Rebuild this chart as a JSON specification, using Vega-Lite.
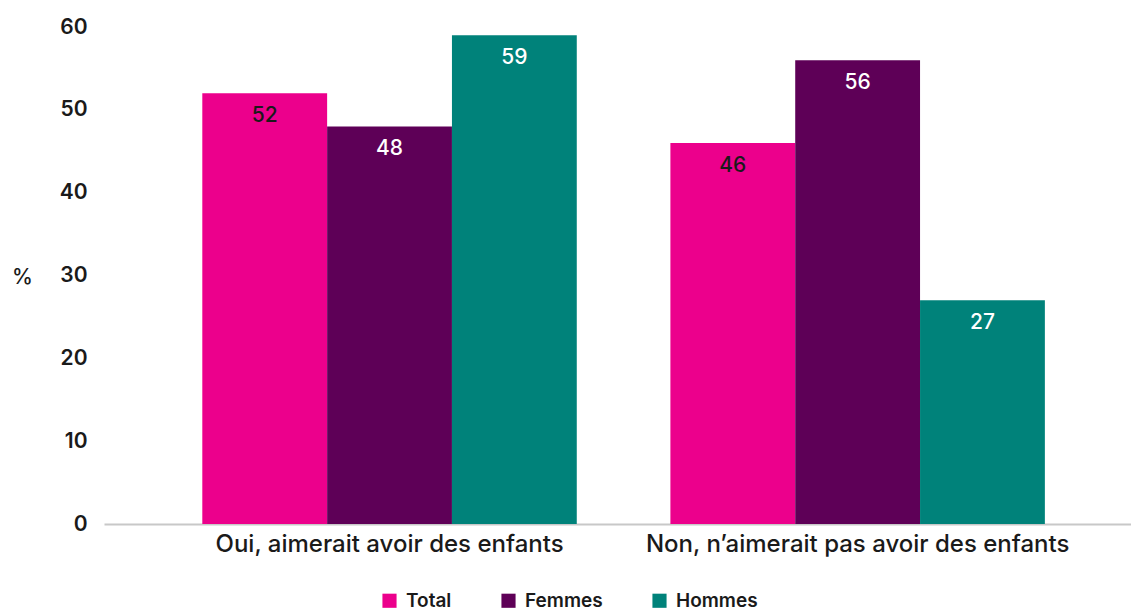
{
  "$schema": "https://vega.github.io/schema/vega-lite/v6.json",
  "autosize": {"type": "none"},
  "width": 1027,
  "height": 497,
  "padding": {"left": 104, "top": 27, "right": 0, "bottom": 90},
  "background": "white",
  "config": {
    "view": {"stroke": null},
    "font": "Inter",
    "axis": {"labelFont": "Inter", "titleFont": "Inter"},
    "legend": {"labelFont": "Inter"}
  },
  "data": {
    "values": [
      {"categorie": "Oui, aimerait avoir des enfants", "serie": "Total", "valeur": 52},
      {"categorie": "Oui, aimerait avoir des enfants", "serie": "Femmes", "valeur": 48},
      {"categorie": "Oui, aimerait avoir des enfants", "serie": "Hommes", "valeur": 59},
      {"categorie": "Non, n’aimerait pas avoir des enfants", "serie": "Total", "valeur": 46},
      {"categorie": "Non, n’aimerait pas avoir des enfants", "serie": "Femmes", "valeur": 56},
      {"categorie": "Non, n’aimerait pas avoir des enfants", "serie": "Hommes", "valeur": 27}
    ]
  },
  "encoding": {
    "x": {
      "field": "categorie",
      "type": "nominal",
      "sort": ["Oui, aimerait avoir des enfants", "Non, n’aimerait pas avoir des enfants"],
      "scale": {"paddingInner": 0.2, "paddingOuter": 0.197, "align": 0.533},
      "axis": {
        "title": null,
        "labelAngle": 0,
        "labelFontSize": 24,
        "labelFontWeight": 500,
        "labelColor": "#1a1a1a",
        "labelPadding": 8,
        "labelLimit": 0,
        "ticks": false,
        "domainColor": "#c8c8c8",
        "domainWidth": 2,
        "grid": false
      }
    },
    "xOffset": {
      "field": "serie",
      "type": "nominal",
      "sort": ["Total", "Femmes", "Hommes"],
      "scale": {"paddingInner": 0, "paddingOuter": 0}
    },
    "y": {
      "field": "valeur",
      "type": "quantitative",
      "scale": {"domain": [0, 60]},
      "axis": {
        "title": "%",
        "titleAngle": 0,
        "titleFontSize": 21,
        "titleFontWeight": 500,
        "titleColor": "#1a1a1a",
        "titleAnchor": "middle",
        "titleX": -82,
        "titleY": 250,
        "titleBaseline": "middle",
        "titleAlign": "center",
        "values": [0, 10, 20, 30, 40, 50, 60],
        "labelFontSize": 21,
        "labelFontWeight": 600,
        "labelColor": "#1a1a1a",
        "labelPadding": 17,
        "ticks": false,
        "domain": false,
        "grid": false
      }
    }
  },
  "layer": [
    {
      "mark": {"type": "bar"},
      "encoding": {
        "color": {
          "field": "serie",
          "type": "nominal",
          "sort": ["Total", "Femmes", "Hommes"],
          "scale": {"domain": ["Total", "Femmes", "Hommes"], "range": ["#EC008C", "#5E0057", "#00827A"]},
          "legend": {
            "title": null,
            "orient": "none",
            "direction": "horizontal",
            "legendX": 276,
            "legendY": 564,
            "symbolType": "square",
            "symbolSize": 200,
            "symbolStrokeWidth": 0,
            "symbolOpacity": 1,
            "labelFontSize": 19,
            "labelFontWeight": 600,
            "labelColor": "#1a1a1a",
            "labelOffset": 7,
            "columnPadding": 47
          }
        }
      }
    },
    {
      "mark": {"type": "text", "baseline": "middle", "dy": 23, "fontSize": 21, "fontWeight": 500},
      "encoding": {
        "text": {"field": "valeur", "type": "quantitative"},
        "color": {
          "condition": {"test": "datum.serie === 'Total'", "value": "#1a1a1a"},
          "value": "#ffffff"
        }
      }
    }
  ]
}
